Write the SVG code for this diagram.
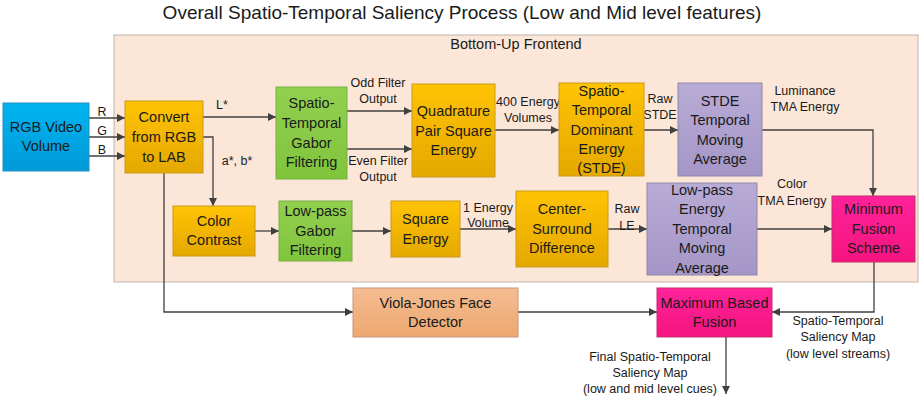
<svg xmlns="http://www.w3.org/2000/svg" width="924" height="404" viewBox="0 0 924 404">
<defs>
<linearGradient id="gOr" x1="0" y1="0" x2="0" y2="1"><stop offset="0" stop-color="#FFC305"/><stop offset="1" stop-color="#E5A800"/></linearGradient>
<linearGradient id="gGr" x1="0" y1="0" x2="0" y2="1"><stop offset="0" stop-color="#92D050"/><stop offset="1" stop-color="#80C43C"/></linearGradient>
<linearGradient id="gBl" x1="0" y1="0" x2="0" y2="1"><stop offset="0" stop-color="#00B4F0"/><stop offset="1" stop-color="#0099D8"/></linearGradient>
<linearGradient id="gPu" x1="0" y1="0" x2="0" y2="1"><stop offset="0" stop-color="#B8ACD6"/><stop offset="1" stop-color="#A496C6"/></linearGradient>
<linearGradient id="gMa" x1="0" y1="0" x2="0" y2="1"><stop offset="0" stop-color="#FF2299"/><stop offset="1" stop-color="#F5147F"/></linearGradient>
<linearGradient id="gPe" x1="0" y1="0" x2="0" y2="1"><stop offset="0" stop-color="#F4BC92"/><stop offset="1" stop-color="#EEA870"/></linearGradient>
<marker id="arr" viewBox="0 0 10 10" refX="10" refY="5" markerWidth="8" markerHeight="8" markerUnits="userSpaceOnUse" orient="auto"><path d="M0,0 L10,5 L0,10 Z" fill="#404040"/></marker>
</defs>
<style>
text{font-family:"Liberation Sans",Arial,sans-serif;fill:#1a1a1a;text-anchor:middle}
.n{font-size:14.5px}
.l{font-size:12.5px}
.t{font-size:19px}
.f{font-size:14.5px}
.box{stroke-width:1}
.or{fill:url(#gOr);stroke:#C99A1A}
.gr{fill:url(#gGr);stroke:#78B040}
.bl{fill:url(#gBl);stroke:#2090C0}
.pu{fill:url(#gPu);stroke:#8F86A8}
.ma{fill:url(#gMa);stroke:#C0306A}
.pe{fill:url(#gPe);stroke:#C9967A}
#connectors path{fill:none;stroke:#404040;stroke-width:1.3;marker-end:url(#arr)}
</style>
<rect width="924" height="404" fill="#ffffff"/>
<text class="t" x="462" y="19">Overall Spatio-Temporal Saliency Process (Low and Mid level features)</text>
<g id="frontend">
<rect x="114" y="35" width="804" height="247" fill="#FBE6D8" stroke="#BFB5AE" stroke-width="1"/>
<text class="f" x="516" y="49">Bottom-Up Frontend</text>
</g>
<g id="connectors">
<path d="M89,118 H125"/>
<path d="M89,137 H125"/>
<path d="M89,156 H125"/>
<path d="M203,117 H276"/>
<path d="M203,137 H213 V206"/>
<path d="M164,173 V312 H353"/>
<path d="M347,111 H412"/>
<path d="M347,149 H412"/>
<path d="M495,130 H559"/>
<path d="M644,130 H678"/>
<path d="M762,130 H873 V196"/>
<path d="M255,231 H279"/>
<path d="M352,231 H391"/>
<path d="M460,229 H516"/>
<path d="M608,229 H647"/>
<path d="M757,229 H832"/>
<path d="M874,262 V312 H772"/>
<path d="M518,312 H657"/>
<path d="M726,337 V394"/>
</g>
<g id="labels" class="l">
<text class="l" x="102" y="116">R</text>
<text class="l" x="102" y="135">G</text>
<text class="l" x="102" y="154">B</text>
<text class="l" x="222" y="109">L*</text>
<text class="l" x="237" y="165">a*, b*</text>
<text class="l" x="378" y="87">Odd Filter</text>
<text class="l" x="378" y="103">Output</text>
<text class="l" x="378" y="165">Even Filter</text>
<text class="l" x="378" y="181">Output</text>
<text class="l" x="528" y="106">400 Energy</text>
<text class="l" x="528" y="122">Volumes</text>
<text class="l" x="660" y="103">Raw</text>
<text class="l" x="660" y="119">STDE</text>
<text class="l" x="805" y="95">Luminance</text>
<text class="l" x="805" y="111">TMA Energy</text>
<text class="l" x="792" y="188">Color</text>
<text class="l" x="792" y="205">TMA Energy</text>
<text class="l" x="627" y="213">Raw</text>
<text class="l" x="627" y="230">LE</text>
<text class="l" x="488" y="212">1 Energy</text>
<text class="l" x="488" y="227">Volume</text>
<text class="l" x="838" y="325">Spatio-Temporal</text>
<text class="l" x="838" y="341">Saliency Map</text>
<text class="l" x="838" y="358">(low level streams)</text>
<text class="l" x="650" y="361">Final Spatio-Temporal</text>
<text class="l" x="650" y="377">Saliency Map</text>
<text class="l" x="650" y="393">(low and mid level cues)</text>
</g>
<g id="rgb">
<rect class="box bl" x="3" y="103" width="86" height="68"/>
<text class="n" x="46" y="132">RGB Video</text>
<text class="n" x="46" y="151">Volume</text>
</g>
<g id="convert">
<rect class="box or" x="125" y="101" width="78" height="72"/>
<text class="n" x="164" y="122">Convert</text>
<text class="n" x="164" y="142">from RGB</text>
<text class="n" x="164" y="162">to LAB</text>
</g>
<g id="stgabor">
<rect class="box gr" x="276" y="87" width="71" height="92"/>
<text class="n" x="311.5" y="108">Spatio-</text>
<text class="n" x="311.5" y="128">Temporal</text>
<text class="n" x="311.5" y="148">Gabor</text>
<text class="n" x="311.5" y="167">Filtering</text>
</g>
<g id="quad">
<rect class="box or" x="412" y="84" width="83" height="93"/>
<text class="n" x="453.5" y="116">Quadrature</text>
<text class="n" x="453.5" y="136">Pair Square</text>
<text class="n" x="453.5" y="155">Energy</text>
</g>
<g id="stde">
<rect class="box or" x="559" y="83" width="85" height="93"/>
<text class="n" x="601.5" y="96">Spatio-</text>
<text class="n" x="601.5" y="115">Temporal</text>
<text class="n" x="601.5" y="135">Dominant</text>
<text class="n" x="601.5" y="154">Energy</text>
<text class="n" x="601.5" y="173">(STDE)</text>
</g>
<g id="stdetma">
<rect class="box pu" x="678" y="83" width="84" height="93"/>
<text class="n" x="720" y="106">STDE</text>
<text class="n" x="720" y="125">Temporal</text>
<text class="n" x="720" y="145">Moving</text>
<text class="n" x="720" y="164">Average</text>
</g>
<g id="minfusion">
<rect class="box ma" x="832" y="196" width="83" height="66"/>
<text class="n" x="873.5" y="214">Minimum</text>
<text class="n" x="873.5" y="234">Fusion</text>
<text class="n" x="873.5" y="253">Scheme</text>
</g>
<g id="lpetma">
<rect class="box pu" x="647" y="183" width="110" height="92"/>
<text class="n" x="702" y="195">Low-pass</text>
<text class="n" x="702" y="214">Energy</text>
<text class="n" x="702" y="234">Temporal</text>
<text class="n" x="702" y="253">Moving</text>
<text class="n" x="702" y="273">Average</text>
</g>
<g id="colorcontrast">
<rect class="box or" x="173" y="206" width="82" height="50"/>
<text class="n" x="214" y="226">Color</text>
<text class="n" x="214" y="245">Contrast</text>
</g>
<g id="lpgabor">
<rect class="box gr" x="279" y="201" width="73" height="60"/>
<text class="n" x="315.5" y="216">Low-pass</text>
<text class="n" x="315.5" y="236">Gabor</text>
<text class="n" x="315.5" y="255">Filtering</text>
</g>
<g id="squareenergy">
<rect class="box or" x="391" y="201" width="69" height="56"/>
<text class="n" x="425.5" y="224">Square</text>
<text class="n" x="425.5" y="244">Energy</text>
</g>
<g id="csd">
<rect class="box or" x="516" y="191" width="92" height="76"/>
<text class="n" x="562" y="214">Center-</text>
<text class="n" x="562" y="234">Surround</text>
<text class="n" x="562" y="253">Difference</text>
</g>
<g id="violajones">
<rect class="box pe" x="353" y="288" width="165" height="49"/>
<text class="n" x="435.5" y="308">Viola-Jones Face</text>
<text class="n" x="435.5" y="327">Detector</text>
</g>
<g id="maxfusion">
<rect class="box ma" x="657" y="288" width="115" height="49"/>
<text class="n" x="714.5" y="308">Maximum Based</text>
<text class="n" x="714.5" y="327">Fusion</text>
</g>
</svg>
